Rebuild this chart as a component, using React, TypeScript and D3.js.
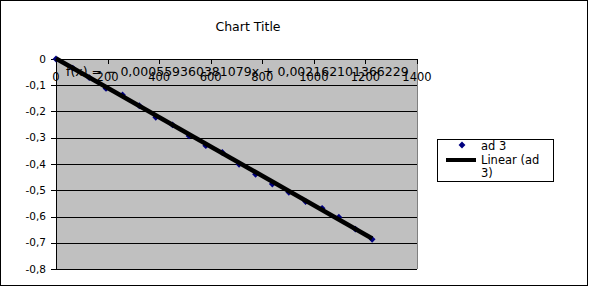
import React from "react";
import * as d3 from "d3";

const xValues = [0, 65, 129, 194, 258, 323, 387, 452, 516, 581, 645, 710, 774, 839, 903, 968, 1032, 1097, 1161, 1226];
const yValues = [0, -0.035, -0.071, -0.112, -0.137, -0.178, -0.222, -0.251, -0.293, -0.33, -0.356, -0.401, -0.439, -0.476, -0.508, -0.543, -0.569, -0.603, -0.648, -0.687];
const xTicks = [0, 200, 400, 600, 800, 1000, 1200, 1400];
const yTicks = [0, -0.1, -0.2, -0.3, -0.4, -0.5, -0.6, -0.7, -0.8];
const slope = -0.000559360381079;
const intercept = 0.002162101366229;
const seriesName = "ad 3";
const trendName = ["Linear (ad", "3)"];
const equationText = "f(x) = − 0,000559360381079x + 0,002162101366229";

const W = 589;
const H = 287;
const FONT = "DejaVu Sans, sans-serif";

export default function App() {
  const x = d3.scaleLinear().domain([0, 1400]).range([56, 417]);
  const y = d3.scaleLinear().domain([-0.8, 0]).range([269, 59]);
  const fmt = (v: number) => (v === 0 ? "0" : d3.format(".1f")(v).replace(".", ",").replace("−", "-"));
  const diamond = d3.symbol().type(d3.symbolDiamond2).size(30)();
  const xMin = d3.min(xValues) as number;
  const xMax = d3.max(xValues) as number;
  const trend = d3
    .line<number>()
    .x((d) => x(d))
    .y((d) => y(slope * d + intercept))([xMin, xMax]);

  return (
    <svg
      width={W}
      height={H}
      style={{ position: "fixed", left: 0, top: 0, fontFamily: FONT }}
    >
      <rect x={0.5} y={0.5} width={W - 2} height={H - 2} fill="#fff" stroke="#000" strokeWidth={1} />
      <text x={248} y={31} textAnchor="middle" fontSize={12.5} fill="#000">
        Chart Title
      </text>

      {/* plot area */}
      <rect x={x(0)} y={y(0)} width={x(1400) - x(0)} height={y(-0.8) - y(0)} fill="#c0c0c0" />
      <line x1={x(1400) + 0.5} x2={x(1400) + 0.5} y1={y(0)} y2={y(-0.8)} stroke="#808080" />
      {yTicks.map((t) => (
        <g key={t}>
          <line x1={x(0) - 5} x2={x(1400)} y1={Math.round(y(t)) + 0.5} y2={Math.round(y(t)) + 0.5} stroke="#000" />
          <text x={46} y={y(t) + 3.5} textAnchor="end" fontSize={10.5} fill="#000">
            {fmt(t)}
          </text>
        </g>
      ))}
      <line x1={x(0) + 0.5} x2={x(0) + 0.5} y1={y(0)} y2={y(-0.8)} stroke="#000" />

      {/* x axis along the zero line */}
      {xTicks.map((t) => (
        <g key={t}>
          <line x1={Math.round(x(t)) + 0.5} x2={Math.round(x(t)) + 0.5} y1={y(0)} y2={y(0) + 5} stroke="#000" />
          <text x={x(t)} y={81} textAnchor="middle" fontSize={11.5} fill="#000">
            {t}
          </text>
        </g>
      ))}

      {/* data points */}
      {xValues.map((v, i) => (
        <path key={i} d={diamond as string} transform={`translate(${x(v)},${y(yValues[i])})`} fill="#000080" />
      ))}

      {/* linear trend line */}
      <path d={trend as string} stroke="#000" strokeWidth={4.5} fill="none" />
      <text x={66} y={76} fontSize={12.5} fill="#000">
        {equationText}
      </text>

      {/* legend */}
      <rect x={437.5} y={139.5} width={116} height={42} fill="#fff" stroke="#000" />
      <path d={diamond as string} transform="translate(462,145)" fill="#000080" />
      <text x={481} y={150} fontSize={11.5} fill="#000">
        {seriesName}
      </text>
      <line x1={446} x2={476} y1={160} y2={160} stroke="#000" strokeWidth={4} />
      <text x={481} y={164} fontSize={11.5} fill="#000">
        {trendName[0]}
      </text>
      <text x={481} y={177} fontSize={11.5} fill="#000">
        {trendName[1]}
      </text>
    </svg>
  );
}
